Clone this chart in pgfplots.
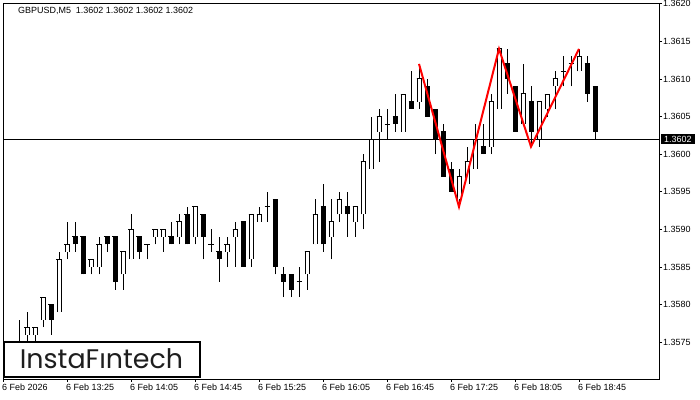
\documentclass[border=0pt]{standalone}
\usepackage{pgfplots}
\pgfplotsset{compat=1.18}
\usepackage{pgfplotstable}
\usepackage{fontspec}
\setmainfont{Liberation Sans}
\newfontfamily\logofont{Poppins}

% bullish (white) candles: k open high low close
\pgfplotstableread{
k o h l c
3 1.3576 1.3579 1.3575 1.3577
4 1.3576 1.3577 1.3575 1.3577
5 1.3578 1.3581 1.3577 1.3581
7 1.3579 1.3587 1.3579 1.3586
8 1.3587 1.3591 1.3586 1.3588
11 1.3585 1.3586 1.3584 1.3586
12 1.3585 1.3589 1.3584 1.3588
15 1.3584 1.3587 1.3582 1.3587
16 1.3586 1.3592 1.3586 1.3590
19 1.3589 1.3590 1.3588 1.3590
20 1.3589 1.3590 1.3587 1.3590
22 1.3589 1.3592 1.3588 1.3591
24 1.3589 1.3593 1.3588 1.3593
28 1.3587 1.3589 1.3585 1.3588
29 1.3589 1.3591 1.3585 1.3590
31 1.3586 1.3592 1.3585 1.3592
32 1.3591 1.3593 1.3591 1.3592
38 1.3584 1.3587 1.3582 1.3587
39 1.3588 1.3594 1.3588 1.3592
41 1.3589 1.3594 1.3586 1.3591
42 1.3592 1.3595 1.3591 1.3594
44 1.3591 1.3593 1.3589 1.3593
45 1.3592 1.3600 1.3590 1.3599
46 1.3598 1.3605 1.3598 1.3602
47 1.3603 1.3606 1.3599 1.3605
50 1.3603 1.3608 1.3603 1.3608
52 1.3607 1.3612 1.3606 1.3610
57 1.3594 1.3598 1.3593 1.3597
58 1.3596 1.3601 1.3596 1.3599
59 1.3598 1.3604 1.3598 1.3602
61 1.3601 1.3608 1.3600 1.3607
62 1.3606 1.3614 1.3606 1.3614
65 1.3604 1.3612 1.3604 1.3608
67 1.3602 1.3607 1.3601 1.3607
68 1.3606 1.3608 1.3605 1.3608
69 1.3609 1.3611 1.3606 1.3610
72 1.3611 1.3614 1.3611 1.3613
}\bull

% bearish (black) candles and dojis: k open high low close
\pgfplotstableread{
k o h l c
2 1.3574 1.3578 1.3572 1.3573
6 1.3580 1.3580 1.3576 1.3578
9 1.3589 1.3591 1.3587 1.3588
10 1.3589 1.3589 1.3584 1.3584
13 1.3589 1.3589 1.3587 1.3588
14 1.3589 1.3589 1.3582 1.3583
17 1.3589 1.3589 1.3586 1.3587
18 1.3588 1.3588 1.3586 1.3588
21 1.3589 1.3591 1.3588 1.3588
23 1.3592 1.3593 1.3588 1.3588
25 1.3592 1.3592 1.3586 1.3589
26 1.3588 1.3590 1.3587 1.3588
27 1.3587 1.3589 1.3583 1.3586
30 1.3591 1.3591 1.3585 1.3585
33 1.3593 1.3595 1.3591 1.3593
34 1.3594 1.3594 1.3584 1.3585
35 1.3584 1.3585 1.3581 1.3583
36 1.3584 1.3584 1.3581 1.3582
37 1.3583 1.3585 1.3581 1.3583
40 1.3593 1.3596 1.3587 1.3588
43 1.3593 1.3595 1.3589 1.3592
48 1.3604 1.3606 1.3602 1.3604
49 1.3605 1.3608 1.3603 1.3604
51 1.3607 1.3611 1.3606 1.3606
53 1.3609 1.3610 1.3605 1.3605
54 1.3606 1.3606 1.3600 1.3602
55 1.3603 1.3604 1.3597 1.3597
56 1.3598 1.3599 1.3595 1.3595
60 1.3601 1.3604 1.3600 1.3600
63 1.3612 1.3614 1.3608 1.3610
64 1.3609 1.3609 1.3603 1.3603
66 1.3607 1.3609 1.3601 1.3603
70 1.3611 1.3613 1.3609 1.3611
71 1.3612 1.3613 1.3609 1.3612
73 1.3612 1.3613 1.3607 1.3608
74 1.3609 1.3609 1.3602 1.3603
75 1.3602 1.3602 1.3602 1.3602
}\bear

\pgfplotsset{
  wick/.style={draw=none, mark=none,
    error bars/.cd, y dir=plus, y explicit, error mark=none,
    error bar style={draw=black, line width=1bp}},
  body/.style 2 args={draw=none, mark=none,
    error bars/.cd, y dir=plus, y explicit, error mark=|,
    error mark options={draw=black, line width=1bp, mark size=2.5bp},
    error bar style={draw=#1, line width=#2}},
}

\begin{document}
\begin{tikzpicture}
\useasboundingbox (0,0) rectangle (700bp,400bp);
\begin{axis}[
  at={(3bp,21bp)}, anchor=south west,
  scale only axis, width=656bp, height=376bp,
  xmin=0, xmax=82, ymin=1.35701, ymax=1.36201,
  axis line style={black, line width=0.8bp},
  tick align=outside, major tick length=3bp,
  tick style={black, line width=0.8bp},
  xtick pos=bottom, ytick pos=right, yticklabel pos=right,
  xtick={0,8,16,24,32,40,48,56,64,72},
  xticklabels={6 Feb 2026, 6 Feb 13:25, 6 Feb 14:05, 6 Feb 14:45, 6 Feb 15:25, 6 Feb 16:05, 6 Feb 16:45, 6 Feb 17:25, 6 Feb 18:05, 6 Feb 18:45},
  ytick={1.3575,1.3580,1.3585,1.3590,1.3595,1.3600,1.3605,1.3610,1.3615,1.3620},
  yticklabels={1.3575,1.3580,1.3585,1.3590,1.3595,1.3600,1.3605,1.3610,1.3615,1.3620},
  scaled y ticks=false,
  xticklabel style={anchor=north west, inner sep=0pt, xshift=-1bp, yshift=-2bp, font=\fontsize{9}{10}\selectfont},
  yticklabel style={anchor=west, inner sep=0pt, xshift=1bp, font=\fontsize{9}{10}\selectfont},
]
% wicks
\addplot[wick] table[x=k, y=l, y error expr=\thisrow{h}-\thisrow{l}] {\bull};
\addplot[wick] table[x=k, y=l, y error expr=\thisrow{h}-\thisrow{l}] {\bear};
% black bodies
\addplot[body={black}{5bp}] table[x=k, y=c, y error expr=\thisrow{o}-\thisrow{c}] {\bear};
% white bodies: black outer, white inner
\addplot[body={black}{5bp}] table[x=k, y=o, y error expr=\thisrow{c}-\thisrow{o}] {\bull};
\addplot[body={white}{3bp}] table[x=k, y=o, y error expr=\thisrow{c}-\thisrow{o}] {\bull};
% bid line
\addplot[black, line width=1bp, mark=none] coordinates {(0,1.3602) (82,1.3602)};
% pattern
\addplot[red, line width=2bp, mark=none] coordinates {(52,1.3612) (57,1.3593) (62,1.3614) (66,1.3601) (72,1.3614)};
\coordinate (bid) at (axis cs:82,1.3602);
\end{axis}
\node[anchor=west, fill=black, text=white, inner xsep=3bp, inner ysep=0pt, minimum height=10bp, font=\fontsize{9}{10}\selectfont] at ([xshift=2bp]bid) {1.3602};
\node[anchor=west, inner sep=0pt, font=\fontsize{9}{10}\selectfont] at (18bp,389bp) {GBPUSD,M5\ \ 1.3602 1.3602 1.3602 1.3602};
\draw[line width=2bp, fill=white] (4bp,23bp) rectangle (200bp,58bp);
\node[text={rgb,255:red,30;green,30;blue,30}, inner sep=0pt, font=\logofont\fontsize{27}{30}\selectfont] at (101.5bp,41bp) {InstaFıntech};
\end{tikzpicture}
\end{document}
